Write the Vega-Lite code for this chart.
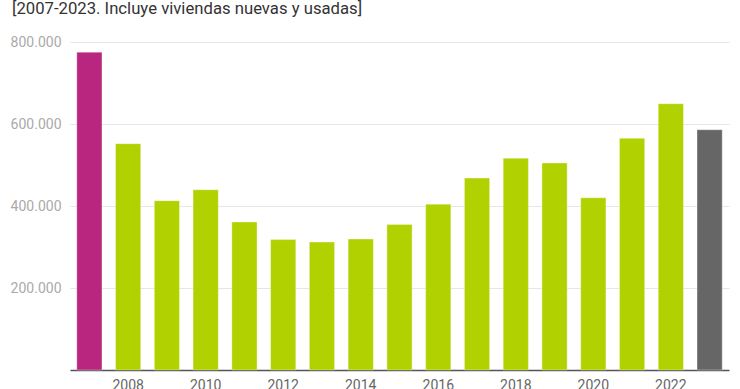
{
  "$schema": "https://vega.github.io/schema/vega-lite/v6.json",
  "width": 659,
  "height": 328,
  "autosize": "none",
  "padding": {"left": 70, "top": 42, "right": 11, "bottom": 19},
  "background": "white",
  "title": {
    "text": "[2007-2023. Incluye viviendas nuevas y usadas]",
    "anchor": "start",
    "frame": "group",
    "dx": -58,
    "offset": 17,
    "font": "Roboto",
    "fontSize": 16.7,
    "fontWeight": "normal",
    "color": "#333333"
  },
  "config": {
    "view": {"stroke": null},
    "font": "Roboto"
  },
  "data": {
    "values": [
      {"year": 2007, "ventas": 775300, "tipo": "a"},
      {"year": 2008, "ventas": 552000, "tipo": "b"},
      {"year": 2009, "ventas": 413000, "tipo": "b"},
      {"year": 2010, "ventas": 439600, "tipo": "b"},
      {"year": 2011, "ventas": 361000, "tipo": "b"},
      {"year": 2012, "ventas": 318000, "tipo": "b"},
      {"year": 2013, "ventas": 312000, "tipo": "b"},
      {"year": 2014, "ventas": 319500, "tipo": "b"},
      {"year": 2015, "ventas": 355000, "tipo": "b"},
      {"year": 2016, "ventas": 404500, "tipo": "b"},
      {"year": 2017, "ventas": 468000, "tipo": "b"},
      {"year": 2018, "ventas": 516600, "tipo": "b"},
      {"year": 2019, "ventas": 505000, "tipo": "b"},
      {"year": 2020, "ventas": 420000, "tipo": "b"},
      {"year": 2021, "ventas": 565000, "tipo": "b"},
      {"year": 2022, "ventas": 649500, "tipo": "b"},
      {"year": 2023, "ventas": 586000, "tipo": "c"}
    ]
  },
  "mark": {"type": "bar", "stroke": "#ffffff", "strokeOpacity": 0.35, "strokeWidth": 1},
  "encoding": {
    "x": {
      "field": "year",
      "type": "ordinal",
      "scale": {"paddingInner": 0.35, "paddingOuter": 0.175},
      "axis": {
        "title": null,
        "values": [2008, 2010, 2012, 2014, 2016, 2018, 2020, 2022],
        "labelAngle": 0,
        "ticks": false,
        "labelPadding": 8,
        "labelFontSize": 14,
        "labelColor": "#666666",
        "domainColor": "#555555",
        "domainWidth": 1.5,
        "grid": false
      }
    },
    "y": {
      "field": "ventas",
      "type": "quantitative",
      "scale": {"domain": [0, 800000], "nice": false},
      "axis": {
        "title": null,
        "values": [200000, 400000, 600000, 800000],
        "labelExpr": "replace(format(datum.value, ','), ',', '.')",
        "domain": false,
        "ticks": false,
        "labelPadding": 9,
        "labelFontSize": 14,
        "labelColor": "#aaaaaa",
        "gridColor": "#e6e6e6",
        "gridWidth": 1
      }
    },
    "color": {
      "field": "tipo",
      "type": "nominal",
      "scale": {"domain": ["a", "b", "c"], "range": ["#b8267f", "#b1d100", "#666666"]},
      "legend": null
    }
  }
}
